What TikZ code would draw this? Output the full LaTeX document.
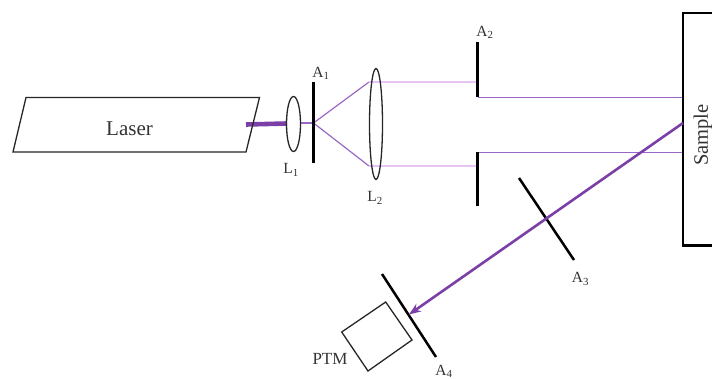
\documentclass[tikz,border=0pt]{standalone}
\usepackage{fontspec}
\setmainfont{Liberation Serif}
\usetikzlibrary{arrows.meta}
\definecolor{beam}{HTML}{7B3FA8}
\definecolor{beamthin}{HTML}{9A68C4}
\definecolor{beampale}{HTML}{E8C4F4}
\definecolor{ink}{HTML}{333333}
\tikzset{
  outline/.style={draw=black!85,line width=1.3pt},
  aperture/.style={draw=black,line width=2.5pt},
  thinbeam/.style={draw=beamthin,line width=1.2pt},
  slimbeam/.style={draw=beamthin,line width=0.8pt},
  palebeam/.style={draw=beampale,line width=1.6pt},
  lbl/.style={text=ink,font=\fontsize{15.5}{17}\selectfont,inner sep=0pt},
}
\begin{document}
\begin{tikzpicture}[x=1pt,y=-1pt]
\useasboundingbox (0,0) rectangle (712,379);
% coordinates
\coordinate (lasTL) at (26,97.5); \coordinate (lasTR) at (259.5,97.5);
\coordinate (lasBR) at (246,152); \coordinate (lasBL) at (13,152);
\coordinate (beamStart) at (246,124.5);
\coordinate (l1In) at (287,123.5); \coordinate (l1Out) at (300,123);
\coordinate (focus) at (313.5,123);
\coordinate (l2U) at (369,82); \coordinate (l2D) at (369,166);
\coordinate (a2U) at (477,82); \coordinate (a2D) at (477,166);
\coordinate (a1T) at (313.5,82); \coordinate (a1B) at (313.5,163);
\coordinate (a2aT) at (477.5,42); \coordinate (a2aB) at (477.5,97.5);
\coordinate (a2bT) at (477.5,152.5); \coordinate (a2bB) at (477.5,206);
\coordinate (sU) at (682,97.5); \coordinate (sD) at (682,152.5);
\coordinate (spot) at (683,123);
\coordinate (a3T) at (519,178); \coordinate (a3B) at (574,260);
\coordinate (a4T) at (382,274); \coordinate (a4B) at (436,357);
\coordinate (hit) at (409,314.5);
% beams
\draw[beam,line width=4.6pt] (beamStart) -- (l1In);
\draw[thinbeam] (l1Out) -- (focus);
\draw[thinbeam] (focus) -- (l2U);
\draw[thinbeam] (focus) -- (l2D);
\draw[palebeam] (l2U) -- (a2U);
\draw[palebeam] (l2D) -- (a2D);
\draw[slimbeam] (a2aB) -- (sU);
\draw[slimbeam] (a2bT) -- (sD);
% laser
\draw[outline] (lasTL) -- (lasTR) -- (lasBR) -- (lasBL) -- cycle;
\node[text=ink,font=\fontsize{21}{23}\selectfont,inner sep=0pt] (laser) at (129.5,128.5) {Laser};
% lenses
\draw[outline] (293.5,124) ellipse [x radius=7,y radius=27.5];
\draw[outline] (376,124) ellipse [x radius=6.5,y radius=55.5];
% apertures
\draw[aperture] (a1T) -- (a1B);
\draw[aperture] (a2aT) -- (a2aB);
\draw[aperture] (a2bT) -- (a2bB);
\draw[aperture] (a3T) -- (a3B);
\draw[aperture] (a4T) -- (a4B);
% sample
\draw[draw=black,line width=2.2pt] (713,13) -- (683,13) -- (683,245.5) -- (713,245.5);
\node[rotate=90,text=ink,font=\fontsize{20.5}{22}\selectfont,inner sep=0pt] (sample) at (703,135) {Sample};
% reflected beam
\draw[beam,line width=2.6pt,-{Stealth[length=12pt,width=9pt]}] (spot) -- (hit);
% PTM box
\draw[outline] (385.7,302) -- (412,340) -- (368,371) -- (341.7,332) -- cycle;
% labels
\node[lbl] (tL1) at (291,170) {L\textsubscript{1}};
\node[lbl] (tA1) at (321,73) {A\textsubscript{1}};
\node[lbl] (tL2) at (375,198) {L\textsubscript{2}};
\node[lbl] (tA2) at (485,32) {A\textsubscript{2}};
\node[lbl] (tA3) at (580.5,279) {A\textsubscript{3}};
\node[lbl] (tA4) at (444,371) {A\textsubscript{4}};
\node[lbl,font=\fontsize{17}{19}\selectfont] (tP) at (330,359) {PTM};
\end{tikzpicture}
\end{document}
